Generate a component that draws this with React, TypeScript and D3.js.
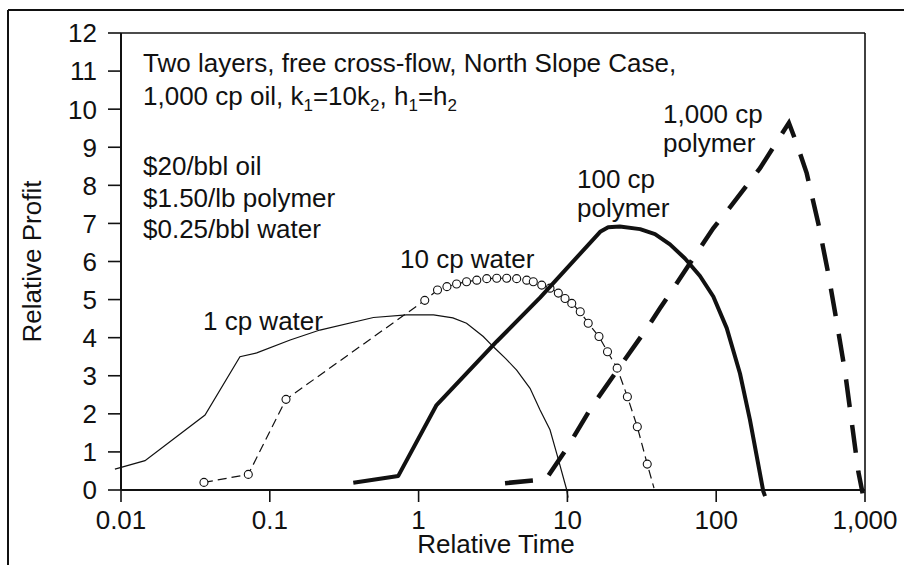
import React from "react";
import * as d3 from "d3";

// ---- data ----
const xTickValues = [0.01, 0.1, 1, 10, 100, 1000];
const xTickLabels = ["0.01", "0.1", "1", "10", "100", "1,000"];
const yTickValues = [0, 1, 2, 3, 4, 5, 6, 7, 8, 9, 10, 11, 12];

const water1X = [0.0091, 0.0145, 0.0367, 0.063, 0.0817, 0.137, 0.217, 0.497, 0.83, 1.26, 1.7, 2.1, 2.72, 3.18, 3.85, 4.56, 5.61, 6.55, 7.64, 8.47, 9.9, 10.1];
const water1Y = [0.55, 0.77, 1.97, 3.5, 3.6, 3.94, 4.2, 4.53, 4.6, 4.6, 4.52, 4.38, 4.03, 3.76, 3.45, 3.15, 2.67, 2.1, 1.58, 0.96, 0.0, -0.2];

const water10X = [0.0361, 0.0717, 0.1285, 1.1, 1.34, 1.55, 1.8, 2.1, 2.46, 2.87, 3.35, 3.91, 4.56, 5.33, 5.9, 6.72, 7.64, 8.69, 9.64, 10.7, 12.2, 13.8, 16.3, 18.6, 21.6, 25.3, 29.5, 34.4, 38.2];
const water10Y = [0.2, 0.41, 2.38, 4.98, 5.25, 5.34, 5.41, 5.47, 5.51, 5.55, 5.56, 5.56, 5.55, 5.51, 5.47, 5.38, 5.3, 5.17, 5.03, 4.9, 4.68, 4.38, 4.03, 3.63, 3.2, 2.45, 1.66, 0.68, 0.05];
const water10Markers = 28; // number of leading points carrying a circle marker

const poly100X = [0.364, 0.73, 1.32, 3.35, 6.55, 16.6, 18.8, 22.5, 30.8, 38.8, 48.9, 61.7, 77.8, 95.6, 117.7, 144.5, 168.6, 207.4, 213];
const poly100Y = [0.19, 0.37, 2.23, 3.9, 5.05, 6.78, 6.9, 6.92, 6.85, 6.72, 6.45, 6.08, 5.62, 5.08, 4.25, 3.06, 1.84, -0.04, -0.16];

const poly1000X = [3.81, 7.16, 9.9, 14.6, 22.5, 35.0, 41.9, 95.5, 127, 197, 308, 347.5, 405.6, 485.6, 566, 645, 734, 814, 902, 964];
const poly1000Y = [0.18, 0.28, 1.09, 2.19, 3.24, 4.3, 4.77, 6.87, 7.48, 8.45, 9.64, 9.1, 8.32, 7.0, 5.69, 4.42, 3.11, 1.79, 0.48, -0.09];

const priceLines = ["$20/bbl oil", "$1.50/lb polymer", "$0.25/bbl water"];

type Pt = [number, number];
const zip = (xs: number[], ys: number[]): Pt[] => xs.map((v, i) => [v, ys[i]]);

export default function App() {
  const W = 904;
  const H = 565;
  const left = 121, right = 865, top = 33, bottom = 490;
  const font = "'Liberation Sans', Arial, Helvetica, sans-serif";
  const fs = 26;

  const x = d3.scaleLog().domain([0.01, 1000]).range([left, right]);
  const y = d3.scaleLinear().domain([0, 12]).range([bottom, top]);
  const line = d3
    .line<Pt>()
    .x((d) => x(d[0]))
    .y((d) => y(d[1]))
    .curve(d3.curveLinear);

  const w1 = zip(water1X, water1Y);
  const w10 = zip(water10X, water10Y);
  const p100 = zip(poly100X, poly100Y);
  const p1000 = zip(poly1000X, poly1000Y);

  return (
    <svg
      width={W}
      height={H}
      viewBox={`0 0 ${W} ${H}`}
      style={{ position: "absolute", left: 0, top: 0, background: "#fff", display: "block" }}
      fontFamily={font}
    >
      <rect x={0} y={0} width={W} height={H} fill="#fff" />
      {/* outer frame (clipped) */}
      <line x1={8} y1={10} x2={W} y2={10} stroke="#111" strokeWidth={2} />
      <line x1={8} y1={10} x2={8} y2={H} stroke="#111" strokeWidth={2} />

      {/* plot box */}
      <line x1={left} y1={top} x2={right} y2={top} stroke="#111" strokeWidth={1.6} />
      <line x1={right} y1={top} x2={right} y2={bottom} stroke="#111" strokeWidth={1.6} />
      <line x1={left} y1={top} x2={left} y2={bottom} stroke="#111" strokeWidth={2} />
      <line x1={left} y1={bottom} x2={right} y2={bottom} stroke="#111" strokeWidth={2} />

      {/* y ticks */}
      {yTickValues.map((t) => (
        <g key={"y" + t}>
          <line x1={left - 13} x2={left} y1={y(t)} y2={y(t)} stroke="#111" strokeWidth={1.6} />
          <text x={97} y={y(t)} dy="0.36em" textAnchor="end" fontSize={fs} fill="#111">
            {t}
          </text>
        </g>
      ))}
      {/* x ticks */}
      {xTickValues.map((t, i) => (
        <g key={"x" + t}>
          <line x1={x(t)} x2={x(t)} y1={bottom} y2={bottom + 12} stroke="#111" strokeWidth={1.6} />
          <text x={x(t)} y={529} textAnchor="middle" fontSize={fs} fill="#111">
            {xTickLabels[i]}
          </text>
        </g>
      ))}

      {/* axis titles */}
      <text x={(left + right) / 2 + 3} y={553} textAnchor="middle" fontSize={fs} fill="#111">
        Relative Time
      </text>
      <text
        transform={`translate(41, ${(top + bottom) / 2}) rotate(-90)`}
        textAnchor="middle"
        fontSize={fs}
        fill="#111"
      >
        Relative Profit
      </text>

      {/* curves */}
      <path d={line(w1) || ""} fill="none" stroke="#111" strokeWidth={1.2} />
      <path d={line(w10) || ""} fill="none" stroke="#111" strokeWidth={1.2} strokeDasharray="9,5" />
      {w10.slice(0, water10Markers).map((d, i) => (
        <circle key={"c" + i} cx={x(d[0])} cy={y(d[1])} r={4} fill="#fff" stroke="#111" strokeWidth={1.1} />
      ))}
      <path d={line(p100) || ""} fill="none" stroke="#111" strokeWidth={4} strokeLinejoin="round" />
      <path d={line(p1000) || ""} fill="none" stroke="#111" strokeWidth={4.5} strokeDasharray="28,18" />

      {/* annotations */}
      <text x={143} y={72} fontSize={fs} fill="#111">
        Two layers, free cross-flow, North Slope Case,
      </text>
      <text x={143} y={105} fontSize={fs} fill="#111">
        1,000 cp oil, k<tspan dy={6} fontSize={17}>1</tspan>
        <tspan dy={-6}>=10k</tspan>
        <tspan dy={6} fontSize={17}>2</tspan>
        <tspan dy={-6}>, h</tspan>
        <tspan dy={6} fontSize={17}>1</tspan>
        <tspan dy={-6}>=h</tspan>
        <tspan dy={6} fontSize={17}>2</tspan>
      </text>
      {priceLines.map((s, i) => (
        <text key={s} x={143} y={175 + i * 31.5} fontSize={fs} fill="#111">
          {s}
        </text>
      ))}

      <text x={203} y={330} fontSize={fs} fill="#111">1 cp water</text>
      <text x={400} y={268} fontSize={fs} fill="#111">10 cp water</text>
      <text x={577} y={188} fontSize={fs} fill="#111">100 cp</text>
      <text x={577} y={217} fontSize={fs} fill="#111">polymer</text>
      <text x={663} y={123} fontSize={fs} fill="#111">1,000 cp</text>
      <text x={663} y={152} fontSize={fs} fill="#111">polymer</text>
    </svg>
  );
}
